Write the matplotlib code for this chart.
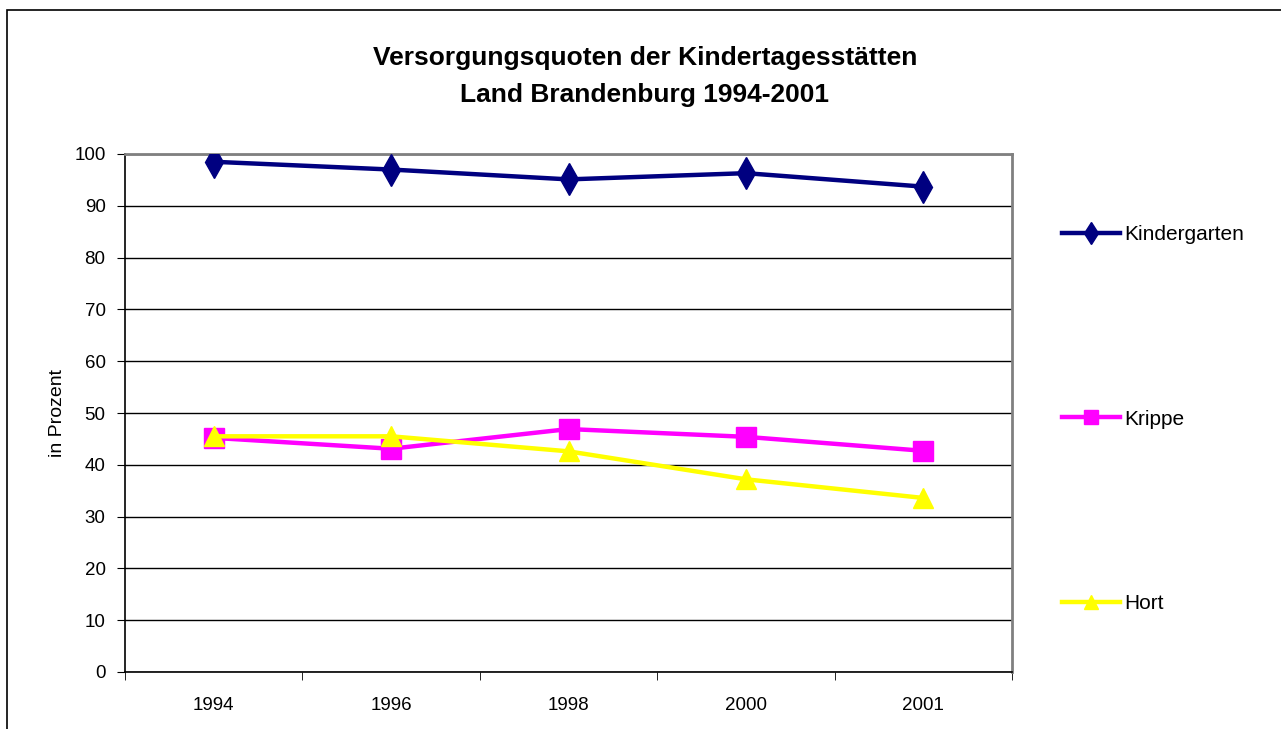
import matplotlib.pyplot as plt
import numpy as np
from matplotlib.patches import Rectangle

plt.rcParams['font.family'] = ['Liberation Sans', 'DejaVu Sans']

years = ["1994", "1996", "1998", "2000", "2001"]
kindergarten = [98.5, 97.0, 95.1, 96.3, 93.7]
krippe = [45.2, 43.1, 46.9, 45.4, 42.7]
hort = [45.5, 45.5, 42.6, 37.2, 33.6]

fig = plt.figure(figsize=(12.81, 7.29), dpi=100)
ax = fig.add_axes([125/1281, 1-672/729, (1012-125)/1281, (672-154)/729])

x = np.arange(len(years))
ax.plot(x, kindergarten, '-d', color='#000080', lw=3.2, ms=16, label='Kindergarten', zorder=5)
ax.plot(x, krippe, '-s', color='#FF00FF', lw=3.2, ms=15, label='Krippe', zorder=4)
ax.plot(x, hort, '-^', color='#FFFF00', lw=3.2, ms=15, label='Hort', zorder=6)

ax.set_xlim(-0.5, len(years) - 0.5)
ax.set_ylim(0, 100)
ax.set_yticks(np.arange(0, 101, 10))
ax.set_xticks(x)
ax.set_xticklabels(years)
ax.set_xticks(np.arange(-0.5, len(years)), minor=True)
ax.tick_params(axis='x', which='major', length=0, pad=18, labelsize=13.5)
ax.tick_params(axis='x', which='minor', length=6, direction='out', color='black')
ax.tick_params(axis='y', length=6, direction='out', labelsize=13.5, pad=8)
ax.grid(axis='y', color='black', lw=1)
ax.set_axisbelow(True)

for s in ['top', 'right']:
    ax.spines[s].set_color('#808080')
    ax.spines[s].set_linewidth(2)
for s in ['left', 'bottom']:
    ax.spines[s].set_color('black')
    ax.spines[s].set_linewidth(1.2)

ax.set_ylabel('in Prozent', fontsize=14, labelpad=6)

fig.text(645/1281, 1-58/729, 'Versorgungsquoten der Kindertagesstätten',
         ha='center', va='center', fontsize=19, fontweight='bold')
fig.text(645/1281, 1-95/729, 'Land Brandenburg 1994-2001',
         ha='center', va='center', fontsize=19, fontweight='bold')

leg = fig.legend(loc='upper left', bbox_to_anchor=(1062/1281, 1-225/729),
                 frameon=False, fontsize=15, labelspacing=7.95, markerscale=0.7,
                 handlelength=2.8, handletextpad=0.2, borderpad=0, borderaxespad=0)

fig.patches.append(Rectangle((7/1281, -0.1), 1.2, 1-10/729+0.1, transform=fig.transFigure,
                             fill=False, edgecolor='black', lw=1.2, figure=fig))

fig.savefig('out.png', dpi=100)
